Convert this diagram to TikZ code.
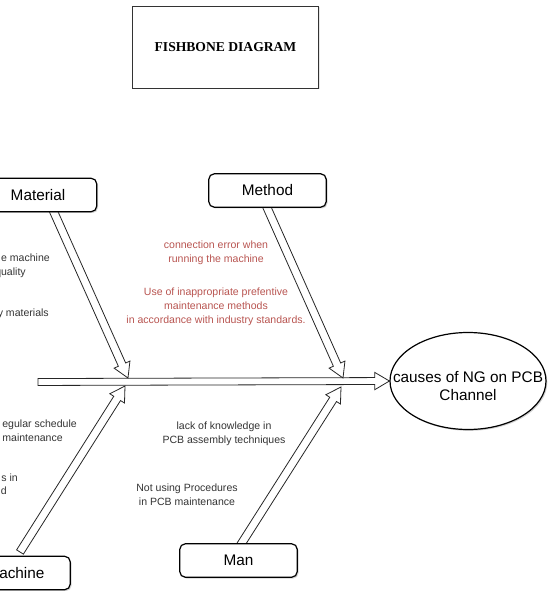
\documentclass[tikz,border=0pt]{standalone}
\usepackage{fontspec}
\setmainfont{Liberation Sans}
\newfontfamily\titlefont{Liberation Serif}
\usepackage{tikz}
\usetikzlibrary{calc,shapes.geometric,shadows,backgrounds}
\definecolor{causered}{HTML}{B85450}
\definecolor{notegray}{HTML}{333333}
\tikzset{
	catbox/.style={draw, line width=0.9pt, rounded corners=4pt, fill=white, minimum width=88pt, minimum height=25pt, font=\fontsize{11.5}{13.5}\selectfont, drop shadow={opacity=0.35, shadow xshift=1pt, shadow yshift=-1pt}},
	bone/.style={draw=black!85, line width=0.6pt, fill=white},
	note/.style={align=center, inner sep=0pt, font=\fontsize{7.9}{10.5}\selectfont, text=notegray},
	rednote/.style={note, text=causered},
	cutnote/.style={inner sep=0pt, anchor=mid east, font=\fontsize{7.9}{10.5}\selectfont, text=notegray},
}
% hollow arrow: from, to, half width of the shaft
\newcommand{\fishbone}[3]{%
	\coordinate (neck) at ($(#2)!11pt!(#1)$);
	\path[bone] ($(#1)!#3!90:(#2)$) -- ($(neck)!#3!90:(#2)$) -- ($(neck)!6.5pt!90:(#2)$) -- (#2) -- ($(neck)!6.5pt!-90:(#2)$) -- ($(neck)!#3!-90:(#2)$) -- ($(#1)!#3!-90:(#2)$) -- cycle;
}
\begin{document}
\begin{tikzpicture}[x=0.75pt,y=-0.75pt]
	\useasboundingbox (0,0) rectangle (548,591);
	\clip (0,0) rectangle (548,591);
	% title
	\node[draw=black!80, line width=0.7pt, minimum width=140pt, minimum height=61.5pt, font=\titlefont\bfseries\fontsize{10.2}{12}\selectfont, drop shadow={opacity=0.2, shadow xshift=1pt, shadow yshift=-1pt}, fill=white] (title) at (225.5,47) {FISHBONE DIAGRAM};
	% head of the fish
	\node[draw, ellipse, line width=0.9pt, fill=white, minimum width=117pt, minimum height=72.75pt, drop shadow={opacity=0.35, shadow xshift=1pt, shadow yshift=-1pt}] (ng) at (468,381) {};
	\node[align=center, font=\fontsize{11.5}{13.5}\selectfont] (ngtext) at (468,386) {causes of NG on PCB\\Channel};
	% categories
	\node[catbox] (material) at (38,195) {Material};
	\node[catbox] (method) at (267.5,190.5) {Method};
	\node[catbox] (man) at (238.5,560.5) {Man};
	\node[catbox] (machine) at (11.5,573) {};
	\node[inner sep=0pt, anchor=west, font=\fontsize{11.5}{13.5}\selectfont] (machinetext) at (-1,573) {achine};
	% bones
	\coordinate (tail) at (38,382);
	\coordinate (matfoot) at (52,208);
	\coordinate (mattip) at (128,378);
	\coordinate (methfoot) at (265,203);
	\coordinate (methtip) at (343,378);
	\coordinate (manfoot) at (238,549);
	\coordinate (mantip) at (341,387);
	\coordinate (machfoot) at (20,552);
	\coordinate (machtip) at (125,386);
	\begin{scope}[on background layer]
		\fishbone{tail}{ng.west}{2.6pt}
		\fishbone{matfoot}{mattip}{3pt}
		\fishbone{methfoot}{methtip}{3pt}
		\fishbone{manfoot}{mantip}{3pt}
		\fishbone{machfoot}{machtip}{3pt}
	\end{scope}
	% causes
	\node[cutnote] (matnotea) at (50,258) {e machine};
	\node[cutnote] (matnoteb) at (26,272) {quality};
	\node[cutnote] (matnotec) at (49,313) {y materials};
	\node[rednote] (methnotea) at (216,253) {connection error when\\running the machine};
	\node[rednote] (methnoteb) at (216,307) {Use of inappropriate prefentive\\maintenance methods\\in accordance with industry standards.};
	\node[cutnote] (machnotea) at (77,424) {egular schedule};
	\node[cutnote] (machnoteb) at (63,438) {maintenance};
	\node[cutnote] (machnotec) at (18,478) {s in};
	\node[cutnote] (machnoted) at (7,491) {d};
	\node[note] (mannotea) at (224,434) {lack of knowledge in\\PCB assembly techniques};
	\node[note] (mannoteb) at (187,495) {Not using Procedures\\in PCB maintenance};
\end{tikzpicture}
\end{document}
